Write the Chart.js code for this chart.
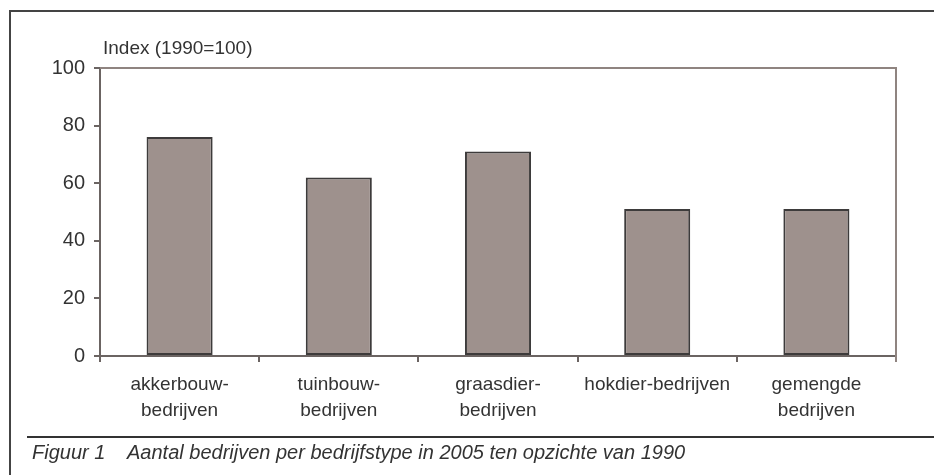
<!DOCTYPE html>
<html lang="nl">
<head>
    <meta charset="UTF-8">
    <title>Aantal bedrijven per bedrijfstype</title>
    <script src="https://cdn.jsdelivr.net/npm/chart.js"></script>
    <style>
        html, body { margin: 0; padding: 0; background: #fff; }
        .wrap { position: relative; width: 934px; height: 475px; overflow: hidden; font-family: "Liberation Sans", Arial, sans-serif; }
        .frame-top { position: absolute; left: 10px; top: 10px; width: 924px; height: 2px; background: #444; }
        .frame-left { position: absolute; left: 9px; top: 10px; width: 2px; height: 465px; background: #444; }
        .cap-line { position: absolute; left: 27px; top: 436px; width: 907px; height: 2px; background: #333; }
        .caption { position: absolute; left: 32px; top: 441px; font-size: 20px; font-style: italic; color: #333; white-space: nowrap; line-height: 22px; }
        .caption .num { display: inline-block; width: 95px; }
        .ytitle { position: absolute; left: 103px; top: 37px; font-size: 19px; color: #333; }
        canvas { position: absolute; left: 0; top: 0; }
    </style>
</head>
<body>
<div class="wrap">
    <canvas id="chart" width="934" height="475"></canvas>
    <div class="frame-top"></div>
    <div class="frame-left"></div>
    <div class="ytitle">Index (1990=100)</div>
    <div class="cap-line"></div>
    <div class="caption"><span class="num">Figuur 1</span>Aantal bedrijven per bedrijfstype in 2005 ten opzichte van 1990</div>
</div>
<script>
    const categories = [
        ['akkerbouw-', 'bedrijven'],
        ['tuinbouw-', 'bedrijven'],
        ['graasdier-', 'bedrijven'],
        ['hokdier-bedrijven'],
        ['gemengde', 'bedrijven']
    ];
    const indexValues = [76, 62, 71, 51, 51];
    const yTicks = [0, 20, 40, 60, 80, 100];

    const axisColor = '#6b6462';
    const frameColor = '#8f8480';

    // top and right edge of the plot area
    const plotBorder = {
        id: 'plotBorder',
        afterDraw(chart) {
            const { ctx, chartArea: a } = chart;
            ctx.save();
            ctx.strokeStyle = frameColor;
            ctx.lineWidth = 2;
            ctx.beginPath();
            ctx.moveTo(a.left, a.top);
            ctx.lineTo(a.right, a.top);
            ctx.lineTo(a.right, a.bottom + 6);
            ctx.stroke();
            ctx.restore();
        }
    };

    new Chart(document.getElementById('chart'), {
        type: 'bar',
        data: {
            labels: categories,
            datasets: [{
                data: indexValues,
                backgroundColor: '#9e918d',
                borderColor: '#3d3b3b',
                borderWidth: 2,
                borderSkipped: false,
                barPercentage: 0.415,
                categoryPercentage: 1
            }]
        },
        options: {
            responsive: false,
            animation: false,
            layout: { padding: { left: 10, top: 68, right: 38, bottom: 0 } },
            plugins: {
                legend: { display: false },
                tooltip: { enabled: false }
            },
            scales: {
                x: {
                    offset: true,
                    afterFit(scale) { scale.height = 119; },
                    grid: {
                        offset: true,
                        drawOnChartArea: false,
                        tickLength: 6,
                        color: axisColor,
                        lineWidth: 2
                    },
                    border: { color: axisColor, width: 2 },
                    ticks: {
                        color: '#333',
                        padding: 10,
                        maxRotation: 0,
                        autoSkip: false,
                        font: { family: '"Liberation Sans", Arial, sans-serif', size: 19, lineHeight: 1.35 }
                    }
                },
                y: {
                    min: 0,
                    max: 100,
                    afterFit(scale) { scale.width = 90; },
                    afterBuildTicks(scale) { scale.ticks = yTicks.map(v => ({ value: v })); },
                    grid: {
                        drawOnChartArea: false,
                        tickLength: 6,
                        color: axisColor,
                        lineWidth: 2
                    },
                    border: { color: axisColor, width: 2 },
                    ticks: {
                        color: '#333',
                        padding: 9,
                        font: { family: '"Liberation Sans", Arial, sans-serif', size: 20 }
                    }
                }
            }
        },
        plugins: [plotBorder]
    });
</script>
</body>
</html>
